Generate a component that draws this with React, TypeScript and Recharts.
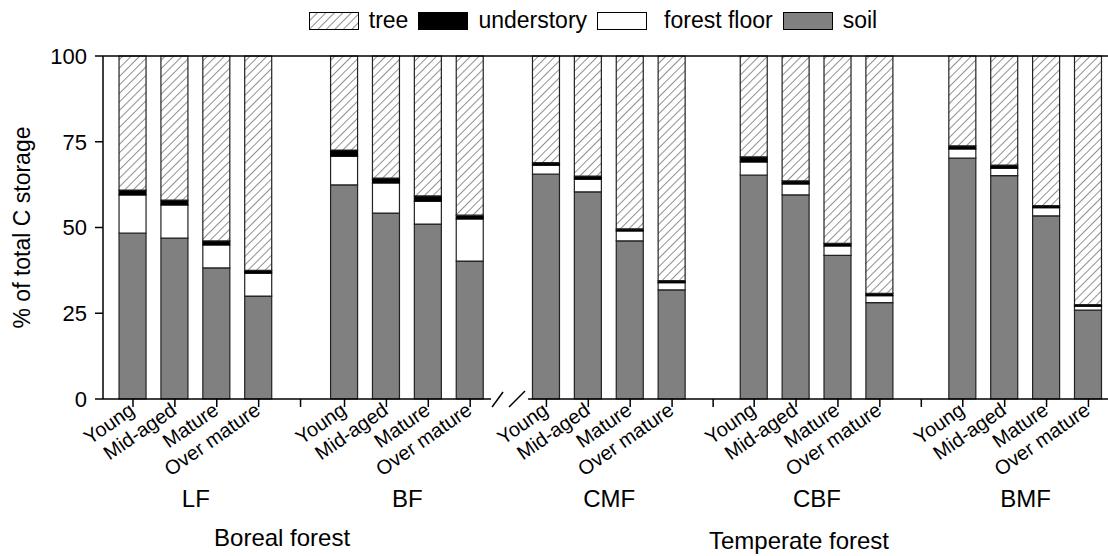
import React from "react";
import { BarChart, Bar, XAxis, YAxis, ReferenceLine, ReferenceDot } from "recharts";

const FONT = "'Liberation Sans', Arial, Helvetica, sans-serif";

// age classes repeat within every forest type
const ages = ["Young", "Mid-aged", "Mature", "Over mature"];
const forestTypes = ["LF", "BF", "CMF", "CBF", "BMF"];
const regions = ["Boreal forest", "Temperate forest"];

// slot of each bar on the x axis (the axis is broken between BF and CMF)
const barSlots = [0, 1, 2, 3, 5.05, 6.05, 7.05, 8.05, 9.87, 10.87, 11.87, 12.87, 14.83, 15.83, 16.83, 17.83, 19.81, 20.81, 21.81, 22.81];
const gapTicks = [4, 13.85, 18.82];
const typeCenters = [1.5, 6.55, 11.37, 16.33, 21.31];
const regionCenters = [3.56, 15.9];
const breakAt = 8.93;

// % of total C storage
const soil = [48.4, 46.9, 38.2, 30.0, 62.4, 54.2, 51.0, 40.2, 65.6, 60.4, 46.1, 31.8, 65.3, 59.5, 41.9, 28.1, 70.2, 65.1, 53.4, 25.9];
const forestFloor = [11.1, 9.7, 6.7, 6.7, 8.4, 8.8, 6.7, 12.3, 2.6, 3.7, 2.9, 2.1, 3.8, 3.2, 2.7, 2.0, 2.7, 2.2, 2.4, 1.2];
const understory = [1.4, 1.4, 1.2, 0.8, 1.8, 1.4, 1.5, 1.1, 0.7, 0.9, 0.6, 0.6, 1.5, 0.9, 0.8, 0.7, 0.9, 0.9, 0.6, 0.4];
const tree = [39.1, 42.0, 53.9, 62.5, 27.4, 35.6, 40.8, 46.4, 31.1, 35.0, 50.4, 65.5, 29.4, 36.4, 54.6, 69.2, 26.2, 31.8, 43.6, 72.5];

const yTicks = [0, 25, 50, 75, 100];

const data = barSlots.map((pos, i) => ({
  pos,
  soil: soil[i],
  forestFloor: forestFloor[i],
  understory: understory[i],
  tree: tree[i],
}));

const legendItems = [
  { name: "tree", fill: "url(#hatchLegend)" },
  { name: "understory", fill: "#000" },
  { name: "forest floor", fill: "#fff" },
  { name: "soil", fill: "#808080" },
];

const AgeTick = (props: any) => {
  const { x, y, payload } = props;
  const i = barSlots.indexOf(payload.value);
  if (i < 0) return null;
  const ax = x + 3;
  const ay = y + 4;
  return (
    <text x={ax} y={ay} transform={`rotate(-35 ${ax} ${ay})`} textAnchor="end" fontSize={20} fontFamily={FONT} fill="#000">
      {ages[i % 4]}
    </text>
  );
};

const GroupTick = (props: any) => {
  const { x, y, payload } = props;
  const t = typeCenters.indexOf(payload.value);
  if (t >= 0) {
    return (
      <text x={x} y={y + 16} textAnchor="middle" fontSize={24} fontFamily={FONT} fill="#000">
        {forestTypes[t]}
      </text>
    );
  }
  const r = regionCenters.indexOf(payload.value);
  if (r >= 0) {
    return (
      <text x={x} y={y + 55 + r * 3} textAnchor="middle" fontSize={24} fontFamily={FONT} fill="#000">
        {regions[r]}
      </text>
    );
  }
  return null;
};

const BreakMark = (props: any) => {
  const { cx, cy } = props;
  return (
    <g>
      <rect x={cx - 16} y={cy - 3} width={37} height={6} fill="#fff" />
      <line x1={cx - 15} y1={cy + 8} x2={cx - 4} y2={cy - 7} stroke="#000" strokeWidth={1.5} />
      <line x1={cx + 2} y1={cy + 8} x2={cx + 18} y2={cy - 8} stroke="#000" strokeWidth={1.5} />
    </g>
  );
};

const YLabel = (props: any) => {
  const vb = props.viewBox || {};
  const cy = (vb.y || 56) + (vb.height || 343) / 2;
  return (
    <text x={30} y={cy} transform={`rotate(-90 30 ${cy})`} textAnchor="middle" fontSize={23} fontFamily={FONT} fill="#000">
      % of total C storage
    </text>
  );
};

export default function App() {
  const domain: [number, number] = [-0.716, 23.277];
  return (
    <div style={{ position: "absolute", left: 0, top: 0, width: 1108, height: 556, background: "#fff", fontFamily: FONT }}>
      <svg width={0} height={0} style={{ position: "absolute" }}>
        <defs>
          <pattern id="hatchLegend" patternUnits="userSpaceOnUse" width={6} height={6} patternTransform="rotate(45)">
            <line x1={0} y1={0} x2={0} y2={6} stroke="#222" strokeWidth={1} />
          </pattern>
        </defs>
      </svg>
      <div style={{ position: "absolute", top: 7, left: 0, width: 1196, display: "flex", justifyContent: "center", alignItems: "center", fontSize: 23, color: "#000" }}>
        {legendItems.map((it) => (
          <div key={it.name} style={{ display: "flex", alignItems: "center", marginRight: 10 }}>
            <svg width={50} height={18} style={{ marginRight: it.name === "forest floor" ? 0 : 10 }}>
              <rect x={0.5} y={0.5} width={49} height={17} fill={it.fill} stroke="#000" strokeWidth={1} />
            </svg>
            <span style={{ marginLeft: it.name === "forest floor" ? 17 : 0 }}>{it.name}</span>
          </div>
        ))}
      </div>
      <BarChart width={1108} height={556} data={data} margin={{ top: 56, right: 0, left: 23, bottom: 0 }} barSize={27}>
        <defs>
          <pattern id="hatch" patternUnits="userSpaceOnUse" width={6} height={6} patternTransform="rotate(45)">
            <rect x={0} y={0} width={6} height={6} fill="#fff" />
            <line x1={0} y1={0} x2={0} y2={6} stroke="#222" strokeWidth={1} />
          </pattern>
        </defs>
        <XAxis
          dataKey="pos"
          type="number"
          domain={domain}
          ticks={[...barSlots, ...gapTicks].sort((a, b) => a - b)}
          interval={0}
          allowDataOverflow
          height={90}
          tickSize={8}
          tickMargin={2}
          tick={<AgeTick />}
          axisLine={{ stroke: "#000", strokeWidth: 1.5 }}
          tickLine={{ stroke: "#000", strokeWidth: 1.5 }}
        />
        <XAxis
          xAxisId="grp"
          dataKey="pos"
          type="number"
          domain={domain}
          ticks={[...typeCenters, ...regionCenters].sort((a, b) => a - b)}
          interval={0}
          allowDataOverflow
          height={67}
          axisLine={false}
          tickLine={false}
          tickSize={0}
          tick={<GroupTick />}
        />
        <YAxis
          type="number"
          domain={[0, 100]}
          ticks={yTicks}
          width={80}
          tickSize={8}
          tickMargin={8}
          tick={{ fontSize: 22, fill: "#000", fontFamily: FONT }}
          axisLine={{ stroke: "#000", strokeWidth: 1.5 }}
          tickLine={{ stroke: "#000", strokeWidth: 1.5 }}
          label={{ content: <YLabel /> }}
        />
        <ReferenceLine y={100} stroke="#000" strokeWidth={1.5} />
        <Bar dataKey="soil" stackId="c" fill="#808080" stroke="#222" strokeWidth={1.2} isAnimationActive={false} />
        <Bar dataKey="forestFloor" stackId="c" fill="#fff" stroke="#222" strokeWidth={1.2} isAnimationActive={false} />
        <Bar dataKey="understory" stackId="c" fill="#000" stroke="#000" strokeWidth={1.2} isAnimationActive={false} />
        <Bar dataKey="tree" stackId="c" fill="url(#hatch)" stroke="#222" strokeWidth={1.2} isAnimationActive={false} />
        <ReferenceDot x={breakAt} y={0} r={0} shape={<BreakMark />} ifOverflow="visible" />
      </BarChart>
    </div>
  );
}
